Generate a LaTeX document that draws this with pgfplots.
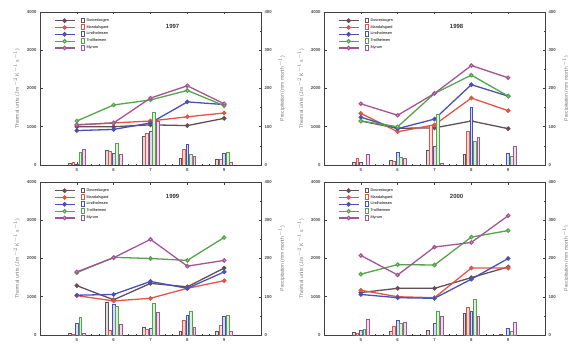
\documentclass[border=0pt]{standalone}
\usepackage{pgfplots}
\usepackage{pgfplotstable}
\pgfplotsset{compat=1.18}
\usepackage{fontspec}
\setmainfont{Liberation Sans}

\definecolor{c1}{RGB}{100,78,88}
\definecolor{c2}{RGB}{222,86,74}
\definecolor{c3}{RGB}{72,82,182}
\definecolor{c4}{RGB}{84,164,74}
\definecolor{c5}{RGB}{164,84,150}

\pgfplotsset{
  base/.style={scale only axis, width=221pt, height=153pt,
    xmin=4, xmax=10, xtick={5,6,7,8,9},
    minor x tick num=4,
    tick align=inside, major tick length=2.5pt, minor tick length=1.2pt,
    tick label style={font=\fontsize{4.3}{5}\bfseries\selectfont, black!70},
    label style={font=\fontsize{5}{6}\selectfont, black!55},
    /pgf/number format/assume math mode=true,
    /pgf/number format/1000 sep={},
    axis line style={line width=0.9pt, color=black!75},
    every tick/.style={black!75, line width=0.5pt}},
  legimg/.style={legend image code/.code={
    \draw[mark repeat=2,mark phase=2,##1] plot coordinates {(0pt,0pt) (10pt,0pt) (20pt,0pt)};
    \draw[##1, mark=none, fill=white, line width=0.9pt] (27pt,-2.2pt) rectangle (29.5pt,2.6pt);}},
  ln/.style={line width=1.3pt, mark=*, mark size=1.6pt},
  br/.style={ybar, bar width=2.8pt, line width=0.8pt},
}

\pgfplotstableread{
m s1 s2 s3 s4 s5
5 1000 1050 900 1150 1050
6 1000 1100 930 1570 1100
7 1050 1150 1100 1700 1750
8 1030 1260 1650 1950 2070
9 1220 1360 1580 1550 1600
}\linesA
\pgfplotstableread{
m p1 p2 p3 p4 p5
5 5 8 2 33 42
6 38 36 30 56 28
7 75 82 87 138 115
8 18 42 55 28 22
9 15 14 30 34 8
}\barsA
\pgfplotstableread{
m s1 s2 s3 s4 s5
5 1150 1350 1250 1150 1600
6 960 870 950 1000 1300
7 970 1050 1200 1870 1870
8 1150 1750 2100 2350 2600
9 950 1420 1800 1800 2280
}\linesB
\pgfplotstableread{
m p1 p2 p3 p4 p5
5 8 18 6 0 27
6 11 10 33 21 17
7 37 104 48 132 5
8 29 88 151 61 72
9 0 0 30 23 48
}\barsB
\pgfplotstableread{
m s1 s2 s3 s4 s5
5 1290 1030 1040 1630 1650
6 920 890 1060 2030 2020
7 1350 960 1400 2000 2500
8 1260 1220 1220 1950 1800
9 1750 1420 1650 2550 1950
}\linesC
\pgfplotstableread{
m p1 p2 p3 p4 p5
5 4 2 30 46 4
6 85 13 80 76 28
7 20 15 18 83 60
8 10 38 52 62 20
9 10 25 48 52 9
}\barsC
\pgfplotstableread{
m s1 s2 s3 s4 s5
5 1110 1170 1060 1590 2080
6 1220 1000 975 1840 1570
7 1220 975 960 1830 2300
8 1500 1750 1460 2560 2420
9 1780 1750 2000 2730 3120
}\linesD
\pgfplotstableread{
m p1 p2 p3 p4 p5
5 7 4 13 15 42
6 9 22 38 30 33
7 13 0 30 62 48
8 57 71 63 93 49
9 2 0 16 9 34
}\barsD

\newcommand{\panel}[5]{%
\begin{axis}[base, at={(#1,#2)}, anchor=south west,
  ymin=0, ymax=4000, ytick={0,1000,2000,3000,4000}, minor y tick num=1,
  ytick pos=left,
  ylabel={Thermal units (J m$^{-2}$ K$^{-1}$ s$^{-1}$)},
  legimg, legend cell align=left,
  legend style={at={(0.06,0.975)}, anchor=north west, draw=none, fill=none,
    font=\fontsize{3.8}{4}\selectfont, row sep=-1.4pt, inner sep=0.5pt}]
\addlegendimage{c1, ln}\addlegendentry{Dovreskogen}
\addlegendimage{c2, ln}\addlegendentry{Mandalsgard}
\addlegendimage{c3, ln}\addlegendentry{Lindholmsen}
\addlegendimage{c4, ln, mark options={fill=white}}\addlegendentry{Trollheimen}
\addlegendimage{c5, ln, mark options={fill=white}}\addlegendentry{Myrum}
\addplot[c1, ln] table[x=m, y=s1] {#4};
\addplot[c2, ln] table[x=m, y=s2] {#4};
\addplot[c3, ln] table[x=m, y=s3] {#4};
\addplot[c4, ln, mark options={fill=white}] table[x=m, y=s4] {#4};
\addplot[c5, ln, mark options={fill=white}] table[x=m, y=s5] {#4};
\node[font=\fontsize{6}{7}\bfseries\selectfont, black!80] at (rel axis cs:0.6,0.905) {#3};
\end{axis}
\begin{axis}[base, at={(#1,#2)}, anchor=south west, hide x axis,
  ymin=0, ymax=400, ytick={0,100,200,300,400}, minor y tick num=1,
  ytick pos=right, yticklabel pos=right,
  ylabel={Precipitation (mm month$^{-1}$)}]
\addplot[br, draw=c1, fill=c1!20, bar shift=-7pt] table[x=m, y=p1] {#5};
\addplot[br, draw=c2, fill=c2!20, bar shift=-3.5pt] table[x=m, y=p2] {#5};
\addplot[br, draw=c3, fill=c3!20, bar shift=0pt] table[x=m, y=p3] {#5};
\addplot[br, draw=c4, fill=c4!20, bar shift=3.5pt] table[x=m, y=p4] {#5};
\addplot[br, draw=c5, fill=c5!20, bar shift=7pt] table[x=m, y=p5] {#5};
\end{axis}}

\begin{document}
\begin{tikzpicture}[x=1pt,y=1pt]
\useasboundingbox (0,0) rectangle (568,343);
\panel{40pt}{178pt}{1997}{\linesA}{\barsA}
\panel{324pt}{178pt}{1998}{\linesB}{\barsB}
\panel{40pt}{8pt}{1999}{\linesC}{\barsC}
\panel{324pt}{8pt}{2000}{\linesD}{\barsD}
\end{tikzpicture}
\end{document}
